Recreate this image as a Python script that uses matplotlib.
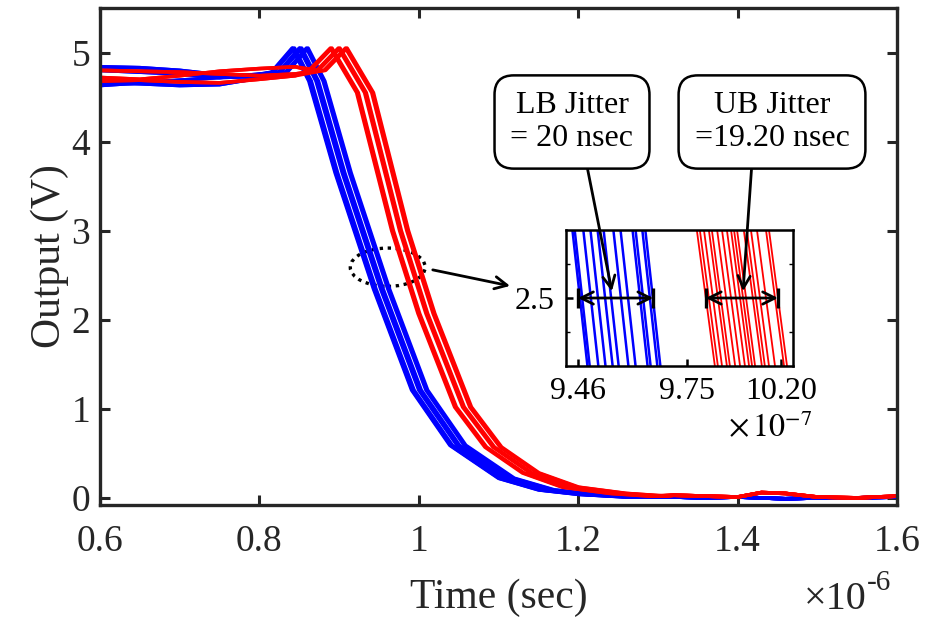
import numpy as np
import matplotlib
matplotlib.use('Agg')
import matplotlib.pyplot as plt
from matplotlib.patches import Ellipse

plt.rcParams['font.family'] = 'Liberation Serif'
plt.rcParams['mathtext.fontset'] = 'stix'

# ---- data ----
# flat high level before the edge (time in us, output in V)
blue_flat_t = [0.60, 0.65, 0.70, 0.75, 0.79]
red_flat_t = [0.60, 0.65, 0.70, 0.75, 0.80, 0.845]
blue_flat = [[4.84, 4.83, 4.80, 4.75, 4.74],
             [4.80, 4.78, 4.76, 4.72, 4.73],
             [4.66, 4.65, 4.63, 4.64, 4.70],
             [4.63, 4.66, 4.69, 4.72, 4.75]]
red_flat = [[4.72, 4.70, 4.74, 4.79, 4.82, 4.84],
            [4.68, 4.69, 4.67, 4.66, 4.70, 4.74],
            [4.80, 4.79, 4.78, 4.76, 4.74, 4.76]]

# falling edge of the earliest run (us, V)
blue_edge_t = [0.815, 0.841, 0.862, 0.895, 0.943, 0.991, 1.039, 1.10, 1.15, 1.20, 1.26]
blue_edge_v = [4.78, 5.05, 4.68, 3.65, 2.35, 1.21, 0.59, 0.22, 0.09, 0.04, 0.01]
red_edge_t = [0.862, 0.889, 0.922, 0.966, 0.999, 1.045, 1.083, 1.13, 1.18, 1.24, 1.29]
red_edge_v = [4.80, 5.05, 4.55, 3.00, 2.07, 1.02, 0.57, 0.28, 0.12, 0.05, 0.02]

# delay of each run against the earliest one (ns)
blue_delay_ns = [0, 1, 3, 9, 10, 12, 18, 20]
red_delay_ns = [0, 2, 10, 12, 19, 21]

# settled low level (us, V)
tail_t = [1.32, 1.36, 1.40, 1.43, 1.46, 1.50, 1.55, 1.60]
blue_tail = [0.01, 0.0, 0.01, 0.0, -0.01, 0.0, 0.0, 0.01]
red_tail = [0.03, 0.02, 0.01, 0.06, 0.05, 0.01, 0.0, 0.02]

# 2.5 V crossing time of every run in the zoomed view (x1e-7 s)
blue_cross = [9.465, 9.471, 9.494, 9.513, 9.532, 9.548, 9.574, 9.593,
              9.625, 9.633, 9.651, 9.659]
red_cross = [9.800, 9.808, 9.819, 9.832, 9.840, 9.854, 9.867, 9.880, 9.891,
             9.899, 9.907, 9.925, 9.933, 9.944, 9.960, 9.984, 9.992]

lb_start, lb_jitter_ns = 9.46, 20.0
ub_start, ub_jitter_ns = 9.80, 19.2

xticks = [0.6, 0.8, 1.0, 1.2, 1.4, 1.6]
yticks = [0, 1, 2, 3, 4, 5]
inset_xticks = [9.46, 9.75, 10.0]
inset_xlabels = ['9.46', '9.75', '10.20']


def build_trace(flat_t, flat_v, edge_t, edge_v, delay_ns, tail_v):
    t = list(flat_t) + [e + delay_ns / 1000.0 for e in edge_t] + tail_t
    v = list(flat_v) + list(edge_v) + list(tail_v)
    return t, v


fig = plt.figure(figsize=(9.51, 6.17), dpi=100)
ax = fig.add_axes([0.1052, 0.1815, 0.838, 0.8055])

for i, d in enumerate(blue_delay_ns):
    t, v = build_trace(blue_flat_t, blue_flat[i % 4], blue_edge_t, blue_edge_v, d, blue_tail)
    ax.plot(t, v, color='#0000ff', lw=2.6)
for i, d in enumerate(red_delay_ns):
    t, v = build_trace(red_flat_t, red_flat[i % 3], red_edge_t, red_edge_v, d, red_tail)
    ax.plot(t, v, color='#ff0000', lw=2.6)

ax.set_xlim(0.6, 1.6)
ax.set_ylim(-0.08, 5.5)
ax.set_xticks(xticks)
ax.set_xticklabels(['%g' % x for x in xticks])
ax.set_yticks(yticks)
ax.tick_params(direction='in', length=7, width=2.2, labelsize=27, top=True, right=True,
               color='#262626', labelcolor='#262626')
ax.tick_params(axis='x', pad=14)
ax.tick_params(axis='y', pad=7)
for s in ax.spines.values():
    s.set_linewidth(2.4)
    s.set_color('#262626')
ax.set_xlabel('Time (sec)', fontsize=30, color='#262626', labelpad=14)
ax.set_ylabel('Output (V)', fontsize=30, color='#262626', labelpad=2)
fig.text(867 / 951, 1 - 609 / 617, '\u00d710', fontsize=29, ha='right', va='baseline',
         color='#262626')
fig.text(867 / 951, 1 - 590 / 617, '-6', fontsize=21, ha='left', va='baseline',
         color='#262626')

# dotted ring around the zoomed region and pointer to the inset
ax.add_patch(Ellipse((0.961, 2.59), 0.094, 0.43, fill=False, ls=(0, (1, 1.4)), lw=2.4,
                     color='k'))
ax.annotate('', xy=(1.1145, 2.38), xytext=(1.0175, 2.56),
            arrowprops=dict(arrowstyle='->', lw=2, color='k', mutation_scale=22,
                            shrinkA=0, shrinkB=0))

# ---- inset: 2.5 V crossings ----
axi = fig.add_axes([0.5952, 0.4068, 0.2387, 0.2204])
k_blue, k_red = 0.2, 0.24
vv = np.array([2.6, 2.4])
for c in blue_cross:
    axi.plot(c - k_blue * (vv - 2.5), vv, color='#0000ff', lw=1.8)
for c in red_cross:
    axi.plot(c - k_red * (vv - 2.5), vv, color='#ff0000', lw=1.3)
axi.set_xlim(9.428, 10.032)
axi.set_ylim(2.4, 2.6)
axi.set_xticks(inset_xticks)
axi.set_xticklabels(inset_xlabels)
axi.set_yticks([2.5])
axi.set_yticklabels(['2.5'])
axi.set_yticks([2.45, 2.55], minor=True)
axi.tick_params(direction='in', length=5, width=1.8, labelsize=23, pad=8)
axi.tick_params(which='minor', direction='in', length=3, width=1, left=True, right=True)
for s in axi.spines.values():
    s.set_linewidth(1.8)

for start, ns in [(lb_start, lb_jitter_ns), (ub_start, ub_jitter_ns)]:
    end = start + ns / 100.0  # ns -> 1e-7 s
    axi.annotate('', xy=(end, 2.5), xytext=(start, 2.5),
                 arrowprops=dict(arrowstyle='<->', lw=2, color='k', mutation_scale=22,
                                 shrinkA=0, shrinkB=0))
    axi.plot([start, end], [2.5, 2.5], ls='none', marker='|', ms=15, mew=2.4, color='k')

fig.text(0.81, 0.305, r'$\times\,10^{-7}$', fontsize=23, ha='center', va='center')

box = dict(boxstyle='round,pad=0.5,rounding_size=0.6', fc='white', ec='k', lw=1.8)
axi.annotate('LB Jitter\n= %g nsec' % lb_jitter_ns, xy=(9.55, 2.51),
             xytext=(572 / 951, 1 - 122 / 617), textcoords='figure fraction',
             fontsize=23, ha='center', va='center', bbox=box, linespacing=1.15,
             arrowprops=dict(arrowstyle='->', lw=2, color='k', mutation_scale=22,
                             relpos=(0.6, 0), shrinkA=0, shrinkB=0))
axi.annotate('UB Jitter\n=%.2f nsec' % ub_jitter_ns, xy=(9.899, 2.51),
             xytext=(772 / 951, 1 - 122 / 617), textcoords='figure fraction',
             fontsize=23, ha='center', va='center', bbox=box, linespacing=1.15,
             arrowprops=dict(arrowstyle='->', lw=2, color='k', mutation_scale=22,
                             relpos=(0.375, 0), shrinkA=0, shrinkB=0))

fig.savefig('out.png', dpi=100)
